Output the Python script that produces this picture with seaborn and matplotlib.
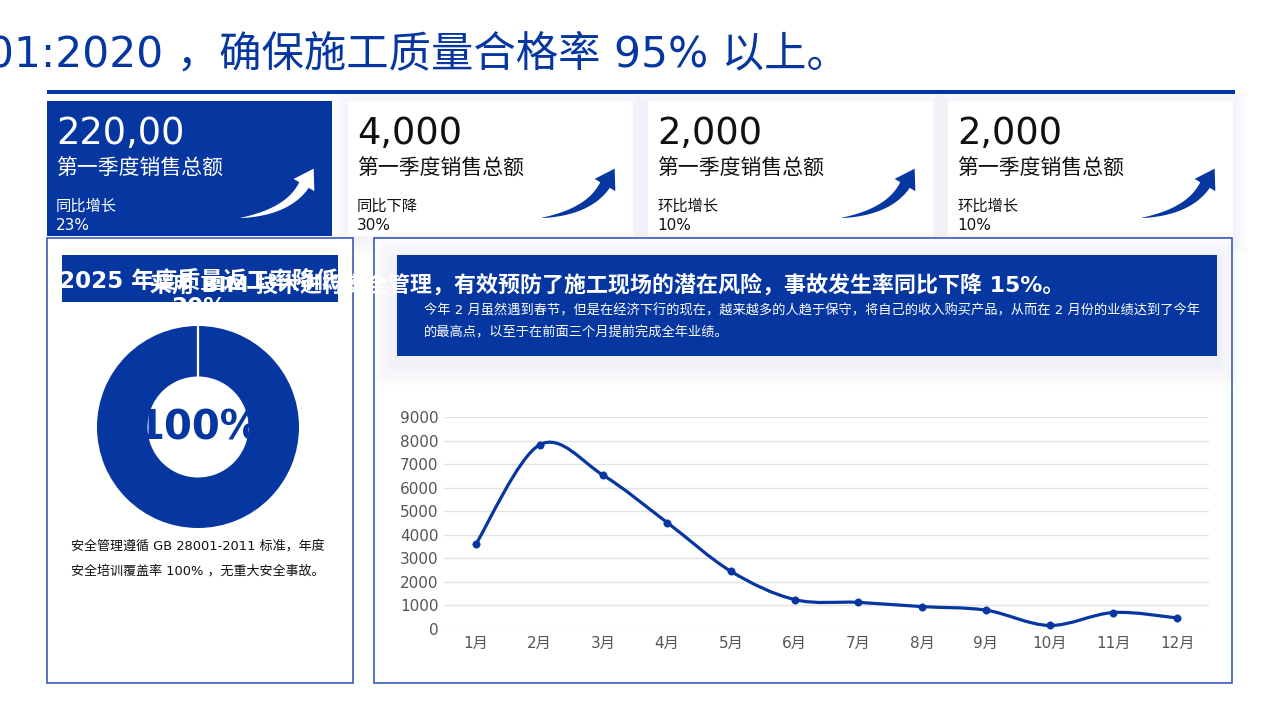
import numpy as np
import seaborn as sns
import matplotlib.pyplot as plt
from matplotlib.patches import Rectangle, Polygon, PathPatch
from matplotlib.path import Path

# ---- data ----
months = ['1月', '2月', '3月', '4月', '5月', '6月', '7月', '8月', '9月', '10月', '11月', '12月']
sales = [3600, 7820, 6520, 4520, 2450, 1250, 1130, 950, 800, 150, 700, 470]
y_ticks = [0, 1000, 2000, 3000, 4000, 5000, 6000, 7000, 8000, 9000]

kpi_values = ['220,00', '4,000', '2,000', '2,000']
kpi_titles = ['第一季度销售总额', '第一季度销售总额', '第一季度销售总额', '第一季度销售总额']
kpi_kinds = ['同比增长', '同比下降', '环比增长', '环比增长']
kpi_rates = ['23%', '30%', '10%', '10%']

safety_rate = [100]

page_title = '01:2020 ，确保施工质量合格率 95% 以上。'
left_title = '2025 年度质量返工率降低'
left_title_2 = '20%'
left_note = ['安全管理遵循 GB 28001-2011 标准，年度', '安全培训覆盖率 100% ，无重大安全事故。']
right_title = '采用 BIM 技术进行安全管理，有效预防了施工现场的潜在风险，事故发生率同比下降 15%。'
right_note = ['今年 2 月虽然遇到春节，但是在经济下行的现在，越来越多的人趋于保守，将自己的收入购买产品，从而在 2 月份的业绩达到了今年',
              '的最高点，以至于在前面三个月提前完成全年业绩。']

BLUE = '#0636a0'
W, H = 1280, 719

sns.set_style('white')
plt.rcParams['font.family'] = ['DejaVu Sans', 'Noto Sans CJK SC']


def box(ax, x0, y0, x1, y1, **kw):
    ax.add_patch(Rectangle((x0, y0), x1 - x0, y1 - y0, **kw))


def shadow(ax, x0, y0, x1, y1, steps=6, spread=2.5, dy=3, alpha=0.011):
    for k in range(steps, 0, -1):
        d = k * spread
        box(ax, x0 - d, y0 - d + dy, x1 + d, y1 + d + dy,
            facecolor='#5a72b0', alpha=alpha, linewidth=0)


def swoosh(ax, x0, y0, color):
    p0 = np.array([x0, y0], dtype=float)
    p1 = p0 + [48, -6]
    p2 = p0 + [64, -33]
    t = np.linspace(0, 1, 50)[:, None]
    pts = (1 - t) ** 2 * p0 + 2 * (1 - t) * t * p1 + t ** 2 * p2
    tan = 2 * (1 - t) * (p1 - p0) + 2 * t * (p2 - p1)
    tan = tan / np.linalg.norm(tan, axis=1, keepdims=True)
    nrm = np.column_stack([-tan[:, 1], tan[:, 0]])
    hw = 5.5 * t ** 0.8
    left = pts + nrm * hw
    right = pts - nrm * hw
    d, n = tan[-1], nrm[-1]
    head = [p2 + n * 12, p2 + d * 19, p2 - n * 12]
    poly = np.vstack([left, head, right[::-1]])
    ax.add_patch(Polygon(poly, closed=True, facecolor=color, edgecolor='none', zorder=5))


fig = plt.figure(figsize=(12.8, 7.19), dpi=100)
fig.patch.set_facecolor('white')

bg = fig.add_axes([0, 0, 1, 1])
bg.set_xlim(0, W)
bg.set_ylim(H, 0)
bg.axis('off')

# page title + rule
bg.text(-13, 67, page_title, fontsize=30.5, color=BLUE, ha='left', va='baseline')
box(bg, 47, 90, 1235, 94, facecolor=BLUE, linewidth=0)

# KPI cards
card_x = [47, 348, 648, 948]
card_w = 285
for i, x0 in enumerate(card_x):
    filled = i == 0
    if not filled:
        shadow(bg, x0, 101, x0 + card_w, 236)
    box(bg, x0, 101, x0 + card_w, 236, facecolor=BLUE if filled else 'white', linewidth=0)
    fg = 'white' if filled else '#111111'
    bg.text(x0 + 9, 144, kpi_values[i], fontsize=26.5, color=fg, va='baseline', ha='left')
    bg.text(x0 + 9, 169, kpi_titles[i], fontsize=15, color=fg, va='center', ha='left')
    bg.text(x0 + 9, 206, kpi_kinds[i], fontsize=11, color=fg, va='center', ha='left')
    bg.text(x0 + 9, 225, kpi_rates[i], fontsize=11, color=fg, va='center', ha='left')
    swoosh(bg, x0 + 193, 218, 'white' if filled else BLUE)

# panels
box(bg, 47, 238, 353, 683, facecolor='white', edgecolor='#3a5cb8', linewidth=1.2)
box(bg, 374, 238, 1232, 683, facecolor='white', edgecolor='#3a5cb8', linewidth=1.2)

box(bg, 62, 255, 338, 302, facecolor=BLUE, linewidth=0)
shadow(bg, 397, 255, 1217, 356, steps=8, spread=3, dy=6, alpha=0.01)
box(bg, 397, 255, 1217, 356, facecolor=BLUE, linewidth=0)

bg.text(199, 281, left_title, fontsize=16.6, fontweight='bold', color='white',
        ha='center', va='center', zorder=6)
bg.text(199, 308, left_title_2, fontsize=16.6, fontweight='bold', color='white',
        ha='center', va='center', zorder=6)
bg.text(150, 284, right_title, fontsize=15.8, fontweight='bold', color='white',
        ha='left', va='center', zorder=7)
for k, line in enumerate(right_note):
    bg.text(424, 311 + 22 * k, line, fontsize=9.5, color='white', ha='left', va='center')
for k, line in enumerate(left_note):
    bg.text(71, 546 + 25 * k, line, fontsize=9.4, color='#111111', ha='left', va='center')

# donut
dax = fig.add_axes([97 / W, (H - 528) / H, 202 / W, 202 / H])
dax.pie(safety_rate, colors=[BLUE], radius=1, startangle=90, counterclock=False,
        wedgeprops=dict(width=0.5, linewidth=0))
dax.plot([0, 0], [0.5, 1.0], color='white', linewidth=1.6)
dax.text(0, -0.01, f'{safety_rate[0]}%', fontsize=29, fontweight='bold', color=BLUE,
         ha='center', va='center')
dax.set_xlim(-1, 1)
dax.set_ylim(-1, 1)
dax.set_aspect('equal')
dax.axis('off')

# line chart
ax = fig.add_axes([444 / W, (H - 629) / H, 765 / W, 212 / H])
ax.set_facecolor('none')
xs = np.arange(len(sales))
ys = np.array(sales, dtype=float)

# smooth bezier path through the monthly points (catmull-rom style handles)
k = 1 / 6
verts = [(xs[0], ys[0])]
codes = [Path.MOVETO]
for i in range(len(xs) - 1):
    a = max(i - 1, 0)
    b = min(i + 2, len(xs) - 1)
    c1 = (xs[i] + (xs[i + 1] - xs[a]) * k, ys[i] + (ys[i + 1] - ys[a]) * k)
    c2 = (xs[i + 1] - (xs[b] - xs[i]) * k, ys[i + 1] - (ys[b] - ys[i]) * k)
    verts += [c1, c2, (xs[i + 1], ys[i + 1])]
    codes += [Path.CURVE4] * 3
ax.add_patch(PathPatch(Path(verts, codes), facecolor='none', edgecolor=BLUE,
                       linewidth=2.3, zorder=3))
sns.scatterplot(x=xs, y=ys, ax=ax, color=BLUE, s=28, edgecolor=BLUE, zorder=4)

ax.set_xlim(-0.5, 11.5)
ax.set_ylim(0, 9000)
ax.set_yticks(y_ticks)
ax.set_xticks(xs)
ax.set_xticklabels(months)
ax.yaxis.grid(True, color='#e2e2e2', linewidth=1)
ax.set_axisbelow(True)
for s in ax.spines.values():
    s.set_visible(False)
ax.tick_params(axis='y', length=0, pad=4, labelsize=11, labelcolor='#555555')
ax.tick_params(axis='x', length=0, pad=5, labelsize=11, labelcolor='#555555')
ax.set_xlabel('')
ax.set_ylabel('')

fig.savefig('out.png', dpi=100)
